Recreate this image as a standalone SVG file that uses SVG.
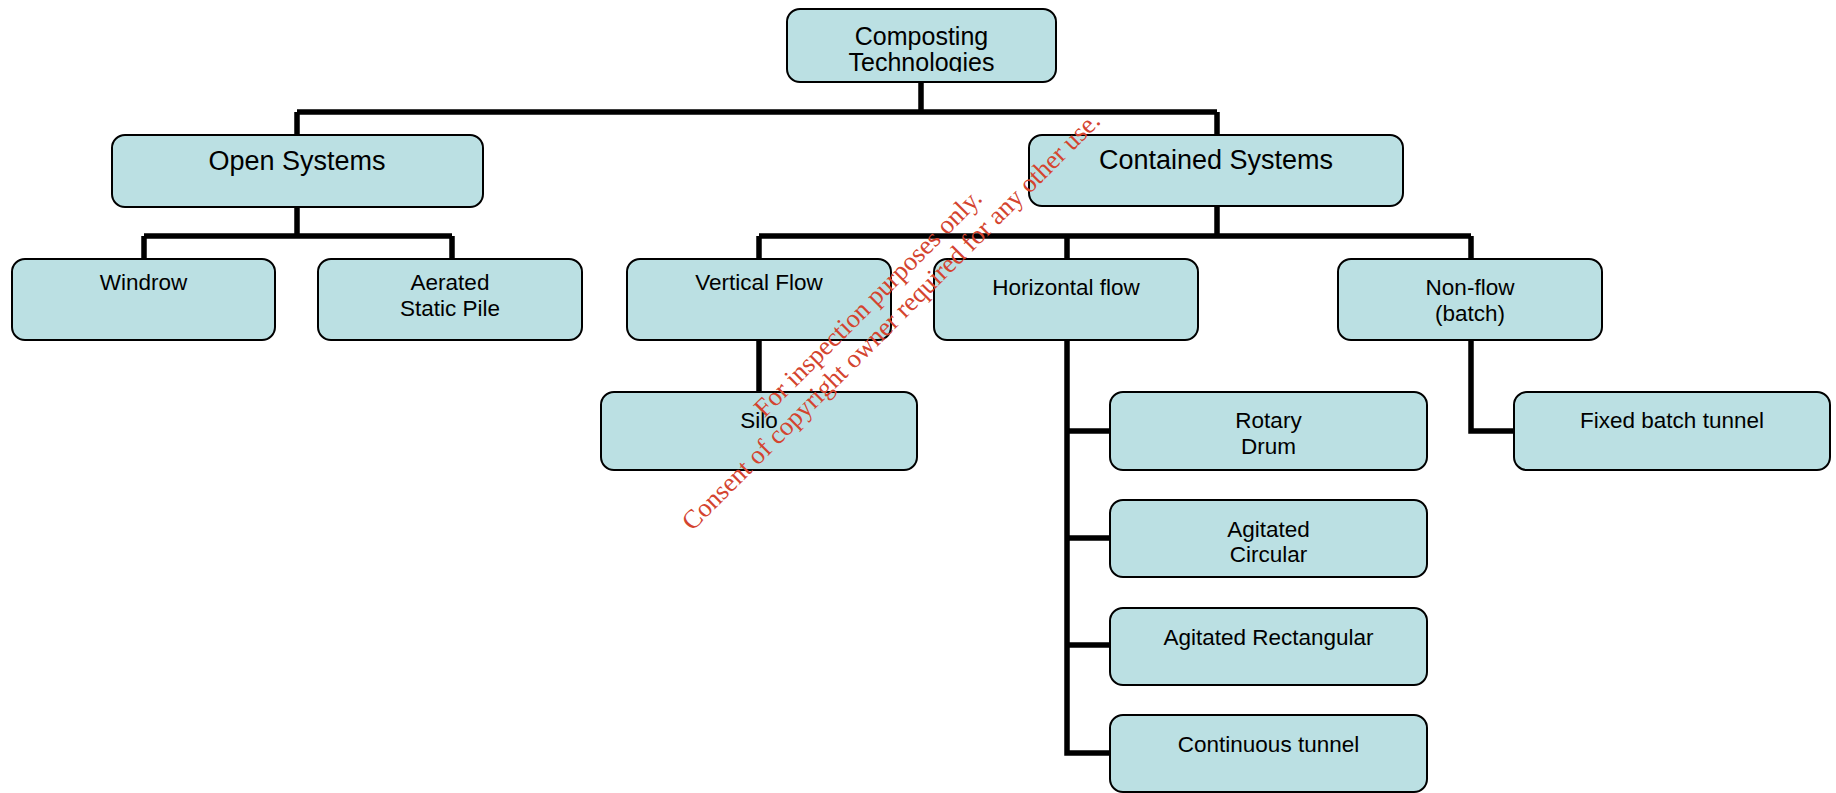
<svg xmlns="http://www.w3.org/2000/svg" width="1836" height="793" viewBox="0 0 1836 793">
<defs>
<style>
.box{fill:#bbe0e3;stroke:#000;stroke-width:2}
.t{font-family:"Liberation Sans",Arial,sans-serif;fill:#000;text-anchor:middle;font-size:22.5px}
.big{font-size:27px}
.mid{font-size:25px}
.conn{fill:none;stroke:#000;stroke-width:5.5;stroke-linecap:butt;stroke-linejoin:miter}
.wm{font-family:"Liberation Serif","Times New Roman",serif;font-size:26.3px;fill:#d4442f;text-anchor:middle}
</style>
<clipPath id="clipTop"><rect x="787" y="9" width="269" height="63"/></clipPath>
</defs>
<rect width="1836" height="793" fill="#fff"/>
<g id="connectors" class="conn">
<path d="M921 82V112M297 112H1217M297 112V135M1217 112V135"/>
<path d="M297 207V236M144 236H452M144 236V259M452 236V259"/>
<path d="M1217 206V236M759 236H1471M759 236V259M1067 236V259M1471 236V259"/>
<path d="M759 340V392"/>
<path d="M1067 340V753H1110M1067 431H1110M1067 538H1110M1067 645H1110"/>
<path d="M1471 340V431H1514"/>
</g>
<g id="n-composting"><rect class="box" x="787" y="9" width="269" height="73" rx="13"/><g clip-path="url(#clipTop)"><text class="t mid" x="921.5" y="45">Composting</text><text class="t mid" x="921.5" y="71">Technologies</text></g></g>
<g id="n-open"><rect class="box" x="112" y="135" width="371" height="72" rx="13"/><text class="t big" x="297" y="170">Open Systems</text></g>
<g id="n-contained"><rect class="box" x="1029" y="135" width="374" height="71" rx="13"/><text class="t big" x="1216" y="169">Contained Systems</text></g>
<g id="n-windrow"><rect class="box" x="12" y="259" width="263" height="81" rx="13"/><text class="t" x="143.5" y="290">Windrow</text></g>
<g id="n-aerated"><rect class="box" x="318" y="259" width="264" height="81" rx="13"/><text class="t" x="450" y="290">Aerated</text><text class="t" x="450" y="316">Static Pile</text></g>
<g id="n-vertical"><rect class="box" x="627" y="259" width="264" height="81" rx="13"/><text class="t" x="759" y="290">Vertical Flow</text></g>
<g id="n-horizontal"><rect class="box" x="934" y="259" width="264" height="81" rx="13"/><text class="t" x="1066" y="295">Horizontal flow</text></g>
<g id="n-nonflow"><rect class="box" x="1338" y="259" width="264" height="81" rx="13"/><text class="t" x="1470" y="295">Non-flow</text><text class="t" x="1470" y="321">(batch)</text></g>
<g id="n-silo"><rect class="box" x="601" y="392" width="316" height="78" rx="13"/><text class="t" x="759" y="428">Silo</text></g>
<g id="n-rotary"><rect class="box" x="1110" y="392" width="317" height="78" rx="13"/><text class="t" x="1268.5" y="428">Rotary</text><text class="t" x="1268.5" y="454">Drum</text></g>
<g id="n-circular"><rect class="box" x="1110" y="500" width="317" height="77" rx="13"/><text class="t" x="1268.5" y="537">Agitated</text><text class="t" x="1268.5" y="562">Circular</text></g>
<g id="n-rect"><rect class="box" x="1110" y="608" width="317" height="77" rx="13"/><text class="t" x="1268.5" y="645">Agitated Rectangular</text></g>
<g id="n-continuous"><rect class="box" x="1110" y="715" width="317" height="77" rx="13"/><text class="t" x="1268.5" y="752">Continuous tunnel</text></g>
<g id="n-fixed"><rect class="box" x="1514" y="392" width="316" height="78" rx="13"/><text class="t" x="1672" y="428">Fixed batch tunnel</text></g>
<g id="watermark">
<text class="wm" transform="translate(874 309) rotate(-45)">For inspection purposes only.</text>
<text class="wm" transform="translate(897 327) rotate(-45)">Consent of copyright owner required for any other use.</text>
</g>
</svg>
